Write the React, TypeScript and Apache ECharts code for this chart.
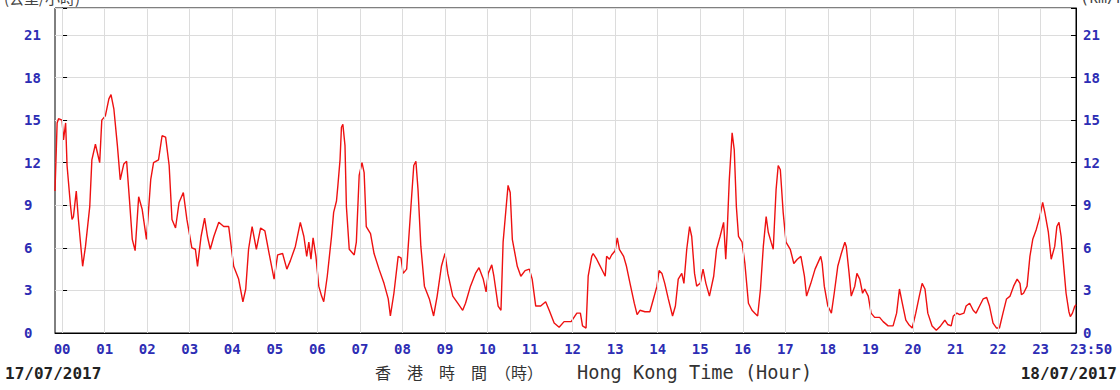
import React, { useEffect, useRef } from "react";
import * as echarts from "echarts";

// minutes relative to 00:00 on 18/07/2017 (chart spans 23:50 of 17/07 to 23:50 of 18/07)
const minutes = [
  -10, -7, -5, 0, 2, 5, 7, 12, 14, 16, 20, 23, 29, 33, 39, 42, 47, 53, 56, 61, 66, 69, 73, 78, 82, 87, 91, 95, 99, 103,
  108, 113, 119, 125, 129, 136, 141, 146, 151, 155, 160, 165, 171, 176, 183, 188, 191, 196, 201, 205, 209, 214, 221, 228,
  235, 242, 249, 255, 259, 263, 268, 274, 280, 286, 292, 299, 304, 311, 317, 322, 329, 336,
  341, 345, 348, 351, 354, 358, 362, 366, 369, 374, 380, 383, 387, 389, 392, 394, 396, 399, 401, 405, 412, 415, 419, 423,
  426, 429, 435, 440, 447, 454, 460, 463, 468, 474, 478, 481, 486, 492, 496, 499, 502, 506, 511, 518, 524, 529, 535, 540,
  544, 551, 558, 565, 569, 576, 583, 588, 594, 598, 601, 606, 609, 615, 619, 622, 626, 629, 632, 635, 642, 647, 653, 659,
  663, 668, 675, 682, 687, 694, 701, 708,
  711, 718, 726, 731, 734, 739, 742, 747, 749, 754, 758, 762, 766, 768, 772, 775, 780, 783, 786, 792, 796, 801, 807, 811,
  815, 822, 829, 834, 839, 842, 846, 850, 855, 861, 865, 869, 874, 877, 881, 885, 888, 892, 895, 900, 904, 908, 913, 919,
  923, 928, 933, 936, 938, 941, 945, 948, 951, 954, 959, 963, 968, 973, 977, 981, 985, 989, 993, 996, 1000, 1003, 1007,
  1010, 1013, 1017, 1021, 1027, 1032, 1037, 1042, 1047, 1050, 1056, 1062, 1070,
  1072, 1075, 1080, 1085, 1089, 1094, 1099, 1104, 1106, 1110, 1113, 1118, 1121, 1125, 1129, 1132, 1137, 1141, 1146, 1153,
  1158, 1165, 1172, 1177, 1181, 1185, 1190, 1194, 1199, 1204, 1209, 1213, 1217, 1221, 1227, 1233, 1239, 1245, 1249, 1254,
  1257, 1262, 1266, 1272, 1275, 1280, 1285, 1289, 1294, 1299, 1304, 1308, 1313, 1318, 1322, 1327, 1332, 1337, 1342, 1347,
  1351, 1353, 1356, 1361, 1365, 1369, 1374, 1379, 1383, 1386, 1391, 1395, 1400, 1403, 1406, 1409, 1413, 1416, 1420, 1422,
  1425, 1428, 1430,
];

// wind speed (km/h)
const speeds = [
  10, 14.8, 15.1, 15, 13.6, 14.8, 11.8, 8.9, 8.0, 8.2, 10, 8, 4.7, 6.1, 8.9, 12.2, 13.3, 12, 15, 15.3, 16.5, 16.8, 15.8,
  13.2, 10.8, 11.9, 12.1, 9.4, 6.6, 5.8,
  9.6, 8.7, 6.6, 10.8, 12, 12.2, 13.9, 13.8, 11.8, 8, 7.4, 9.2, 9.9, 8, 6, 5.9, 4.7, 6.8, 8.1, 6.8, 5.9, 6.8, 7.8, 7.5,
  7.5, 4.7, 3.8, 2.2, 3.1, 5.9, 7.5, 5.9, 7.4, 7.2, 5.6, 3.8, 5.5, 5.6, 4.5, 5.1, 6.1, 7.8,
  6.8, 5.4, 6.4, 5.2, 6.7, 5.4, 3.3, 2.6, 2.2, 4, 6.8, 8.5, 9.3, 10.4, 12.2, 14.5, 14.7, 13.2, 8.9, 5.9, 5.5, 6.4, 11.1, 12,
  11.3, 7.5, 7, 5.6, 4.5, 3.5, 2.4, 1.2, 2.8, 5.4, 5.3, 4.2, 4.5, 8.9, 11.8, 12.1, 10.1, 6.1, 3.3, 2.4, 1.2, 2.6, 4.7, 5.6,
  4.2, 2.6, 2.1, 1.6, 2.1, 3.3, 4.2, 4.6, 3.8, 2.9, 4.2, 4.8, 4, 1.9, 1.6, 6.4, 8.7, 10.4, 9.9, 6.6, 4.7, 4, 4.4, 4.5,
  3.8, 1.9, 1.9, 2.2, 1.6, 0.7, 0.4, 0.8,
  0.8, 0.8, 1.4, 1.4, 0.5, 0.35, 4, 5.4, 5.6, 5.2, 4.8, 4.4, 4, 5.4, 5.2, 5.5, 5.8, 6.7, 5.9, 5.4, 4.7, 3.5, 2.1, 1.3,
  1.6, 1.5, 1.5, 2.4, 3.3, 4.4, 4.2, 3.5, 2.4, 1.2, 1.9, 3.8, 4.2, 3.5, 5.9, 7.5, 6.8, 4.2, 3.3, 3.5, 4.5, 3.5, 2.6, 4,
  5.9, 6.8, 7.8, 5.2, 7.1, 10.8, 14.1, 12.9, 8.9, 6.8, 6.4, 4.9, 2.1, 1.6, 1.4, 1.2, 3.1, 6.1, 8.2, 7.1, 6.4, 5.9, 10.1,
  11.8, 11.5, 8.5, 6.4, 5.9, 4.9, 5.2, 5.4, 4, 2.6, 3.5, 4.5, 5.4,
  4.9, 3.3, 1.9, 1.4, 2.8, 4.7, 5.6, 6.4, 6.1, 4.2, 2.6, 3.3, 4.2, 3.8, 2.8, 3.1, 2.6, 1.4, 1.1, 1.1,
  0.8, 0.5, 0.5, 1.4, 3.1, 2.1, 0.9, 0.6, 0.35, 1.4, 2.6, 3.5, 3.1, 1.4, 0.5, 0.2, 0.5, 0.9, 0.6, 0.5,
  1.2, 1.4, 1.3, 1.4, 1.9, 2.1, 1.6, 1.4, 1.9, 2.4, 2.5, 1.9, 0.7, 0.35, 0.35, 1.4, 2.4, 2.6, 3.3, 3.8,
  3.5, 2.7, 2.8, 3.3, 5.4, 6.6, 7.3, 8.2, 9.2, 8.5, 7.1, 5.2, 6.1, 7.5, 7.8, 6.8, 4.5, 2.8, 1.5, 1.15,
  1.4, 1.85, 2.0,
];

// hour ticks (minutes) and their labels
const tickMinutes = [
  0, 60, 120, 180, 240, 300, 360, 420, 480, 540, 600, 660, 720, 780, 840, 900, 960, 1020, 1080, 1140, 1200, 1260, 1320, 1380,
];
const labelMinutes = [...tickMinutes, 1430];
const hourLabels = [
  "00", "01", "02", "03", "04", "05", "06", "07", "08", "09", "10", "11", "12", "13", "14", "15", "16", "17", "18", "19",
  "20", "21", "22", "23", "23:50",
];
const yTickLabels = ["0", "3", "6", "9", "12", "15", "18", "21"];

const startDate = "17/07/2017";
const endDate = "18/07/2017";
const titleZh = "香　港　時　間　（時）";
const titleEn = "Hong Kong Time (Hour)";
const unitZh = "(公里/小時)";
const unitEn = "(km/h)";

const LABEL_BLUE = "#2d2db4";
const MONO = "'DejaVu Sans Mono', 'Liberation Mono', monospace";

export default function App() {
  const ref = useRef<HTMLDivElement>(null);

  useEffect(() => {
    document.body.style.margin = "0";
    if (!ref.current) return;
    const chart = echarts.init(ref.current, null, { renderer: "svg" });

    const yLabel = (v: number) => {
      const s = String(Math.round(v * 10) / 10);
      return yTickLabels.includes(s) ? s : "";
    };

    const labelStyle = {
      color: LABEL_BLUE,
      fontFamily: MONO,
      fontWeight: "bold" as const,
      fontSize: 14,
    };

    const data = minutes.map((m, i) => [m, speeds[i]]);

    chart.setOption({
      animation: false,
      backgroundColor: "#ffffff",
      grid: {
        left: 55,
        right: 44,
        top: 8,
        bottom: 57,
        show: true,
        borderColor: "#000000",
        borderWidth: 1,
        backgroundColor: "transparent",
      },
      xAxis: {
        type: "value",
        min: -10,
        max: 1430,
        axisLine: { show: true, lineStyle: { color: "#000000", width: 1 } },
        axisTick: {
          show: true,
          inside: true,
          length: 5,
          customValues: tickMinutes,
          lineStyle: { color: "#000000" },
        },
        axisLabel: {
          ...labelStyle,
          margin: 9,
          customValues: labelMinutes,
          formatter: (v: number) => {
            const idx = labelMinutes.indexOf(v);
            if (idx < 0) return "";
            if (idx === labelMinutes.length - 1) return "{end|" + hourLabels[idx] + "}";
            return hourLabels[idx];
          },
          rich: {
            end: {
              ...labelStyle,
              padding: [0, 0, 0, 30],
            },
          },
        },
        splitLine: { show: false },
      },
      yAxis: [
        {
          type: "value",
          position: "left",
          min: 0,
          max: 22.9,
          interval: 3,
          axisLine: { show: true, lineStyle: { color: "#000000" } },
          axisTick: { show: true, inside: true, length: 5, lineStyle: { color: "#000000" } },
          axisLabel: { ...labelStyle, align: "left", margin: 31, formatter: yLabel },
          splitLine: { show: true, lineStyle: { color: "#dcdcdc", width: 1 } },
        },
        {
          type: "value",
          position: "right",
          min: 0,
          max: 22.9,
          interval: 3,
          axisLine: { show: true, lineStyle: { color: "#000000" } },
          axisTick: { show: true, inside: true, length: 5, lineStyle: { color: "#000000" } },
          axisLabel: { ...labelStyle, align: "left", margin: 7, formatter: yLabel },
          splitLine: { show: false },
        },
      ],
      series: [
        {
          type: "line",
          name: "grid",
          data: [],
          z: 1,
          silent: true,
          markLine: {
            silent: true,
            symbol: "none",
            label: { show: false },
            lineStyle: { color: "#dcdcdc", type: "solid", width: 1 },
            data: tickMinutes.map((m) => ({ xAxis: m })),
          },
        },
        {
          type: "line",
          name: "wind",
          data,
          z: 3,
          showSymbol: false,
          symbol: "none",
          lineStyle: { color: "#ee1111", width: 1.4 },
        },
      ],
      graphic: [
        {
          type: "text",
          x: 4,
          y: 5,
          style: {
            text: unitZh,
            font: "15px 'Noto Sans CJK TC'",
            fill: "#444",
            align: "left",
            verticalAlign: "bottom",
            textAlign: "left",
            textVerticalAlign: "bottom",
          },
        },
        {
          type: "text",
          x: 1080,
          y: 5,
          style: {
            text: unitEn,
            font: "15px " + MONO,
            fill: "#444",
            align: "left",
            verticalAlign: "bottom",
            textAlign: "left",
            textVerticalAlign: "bottom",
          },
        },
        {
          type: "text",
          x: 5,
          y: 373,
          style: {
            text: startDate,
            font: "bold 16px " + MONO,
            fill: "#222",
            align: "left",
            verticalAlign: "middle",
            textAlign: "left",
            textVerticalAlign: "middle",
          },
        },
        {
          type: "text",
          x: 1117,
          y: 373,
          style: {
            text: endDate,
            font: "bold 16px " + MONO,
            fill: "#222",
            align: "right",
            verticalAlign: "middle",
            textAlign: "right",
            textVerticalAlign: "middle",
          },
        },
        {
          type: "text",
          x: 375,
          y: 372,
          style: {
            text: titleZh,
            font: "16px 'Noto Sans CJK TC'",
            fill: "#333",
            align: "left",
            verticalAlign: "middle",
            textAlign: "left",
            textVerticalAlign: "middle",
          },
        },
        {
          type: "text",
          x: 577,
          y: 372,
          style: {
            text: titleEn,
            font: "18.6px " + MONO,
            fill: "#333",
            align: "left",
            verticalAlign: "middle",
            textAlign: "left",
            textVerticalAlign: "middle",
          },
        },
      ],
    });

    return () => {
      chart.dispose();
    };
  }, []);

  return <div ref={ref} style={{ width: 1120, height: 390 }} />;
}
